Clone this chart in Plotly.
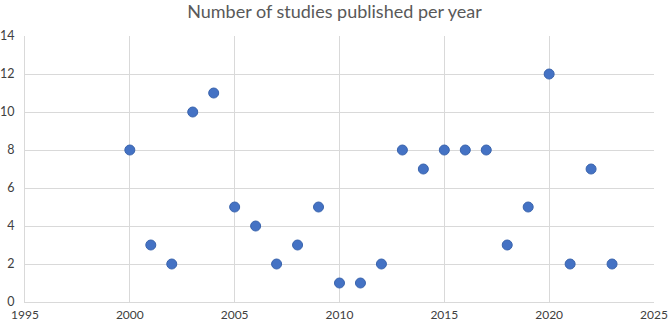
import plotly.graph_objects as go

years = [2000, 2001, 2002, 2003, 2004, 2005, 2006, 2007, 2008, 2009, 2010, 2011,
         2012, 2013, 2014, 2015, 2016, 2017, 2018, 2019, 2020, 2021, 2022, 2023]
studies = [8, 3, 2, 10, 11, 5, 4, 2, 3, 5, 1, 1,
           2, 8, 7, 8, 8, 8, 3, 5, 12, 2, 7, 2]
title_text = "Number of studies published per year"

fig = go.Figure(go.Scatter(
    x=years, y=studies, mode="markers",
    marker=dict(size=10, color="#4472C4", line=dict(color="#3a64ad", width=1)),
))

grid = "#d9d9d9"
fig.update_layout(
    width=669, height=324,
    margin=dict(l=25, r=15, t=36, b=22),
    paper_bgcolor="white", plot_bgcolor="white",
    showlegend=False,
    font=dict(family="Lato, Open Sans, sans-serif", color="#595959", size=12),
    title=dict(text=title_text, x=0.5, xanchor="center", y=0.963, yanchor="middle",
               font=dict(size=18, color="#595959")),
    xaxis=dict(range=[1995, 2025.001], dtick=5, tick0=1995, showgrid=True, gridcolor=grid,
               gridwidth=1, zeroline=False, showline=True, linecolor=grid, mirror=False,
               ticks="", automargin=False, ticklabelstandoff=2, ticklabeloverflow="allow",
               tickfont=dict(size=12, color="#404040")),
    yaxis=dict(range=[0, 14.001], dtick=2, showgrid=True, gridcolor=grid, gridwidth=1,
               zeroline=False, showline=True, linecolor=grid, ticks="", automargin=False,
               ticklabelstandoff=7, ticklabeloverflow="allow",
               tickfont=dict(size=12.5, color="#404040")),
)
fig.write_html("out.html", config={"displayModeBar": False},
               post_script="document.body.style.margin='0';document.body.style.overflow='hidden';")
